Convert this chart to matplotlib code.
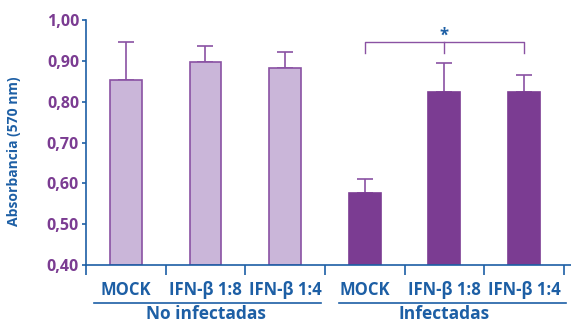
import numpy as np
import matplotlib
matplotlib.use("Agg")
import matplotlib.pyplot as plt
from matplotlib.lines import Line2D

# -----------------------
# Data
# -----------------------
categories = ["MOCK", "IFN-β 1:8", "IFN-β 1:4", "MOCK", "IFN-β 1:8", "IFN-β 1:4"]
groups = ["No infectadas", "Infectadas"]
means = [0.853, 0.898, 0.883, 0.577, 0.824, 0.824]
err_tops = [0.945, 0.937, 0.922, 0.610, 0.895, 0.866]
yticks = [0.40, 0.50, 0.60, 0.70, 0.80, 0.90, 1.00]
ytick_labels = ["0,40", "0,50", "0,60", "0,70", "0,80", "0,90", "1,00"]

# -----------------------
# Colours
# -----------------------
blue = "#1D5FA5"
purple = "#7B3C92"
light = "#CAB6D9"
edge = "#8A52A3"

plt.rcParams["font.family"] = ["Open Sans", "DejaVu Sans"]

W, H = 571, 323
fig = plt.figure(figsize=(W / 100, H / 100), dpi=100)
ax = fig.add_axes([86 / W, (H - 265) / H, (W - 86) / W, 245 / H])

x = np.arange(len(categories))
means = np.array(means)
err = np.array(err_tops) - means
colors = [light] * 3 + [purple] * 3
edges = [edge] * 3 + [purple] * 3

ax.bar(x, means - 0.4, bottom=0.4, width=0.4, color=colors,
       edgecolor=edges, linewidth=1.2, zorder=2)
ax.errorbar(x, means, yerr=[np.zeros_like(err), err], fmt="none",
            ecolor=edge, elinewidth=1.2, capsize=5.5, capthick=1.2, zorder=1)

ax.set_xlim(-0.5, 5.59)
ax.set_ylim(0.4, 1.0)
ax.set_yticks(yticks)
ax.set_yticklabels(ytick_labels, color=purple, fontweight="bold", fontsize=11.5)
ax.set_xticks(np.arange(-0.5, 6, 1.0))
ax.set_xticklabels([])
ax.tick_params(axis="y", length=3, color=blue, width=1.2, pad=2)
ax.tick_params(axis="x", length=7, color=blue, width=1.2, direction="out")
for side in ["top", "right"]:
    ax.spines[side].set_visible(False)
for side in ["left", "bottom"]:
    ax.spines[side].set_color(blue)
    ax.spines[side].set_linewidth(1.2)
ax.set_ylabel("Absorbancia (570 nm)", color=blue, fontweight="bold",
              fontsize=10)
ax.yaxis.set_label_coords(-0.133, 0.465)

# significance bracket
ax.plot([3, 3, 5, 5], [0.920, 0.945, 0.945, 0.920], color=edge, lw=1, clip_on=False)
ax.plot([4, 4], [0.945, 0.920], color=edge, lw=1, clip_on=False)
ax.text(4, 0.962, "*", color=blue, ha="center", va="center",
        fontsize=12, fontweight="bold")

# category labels and group labels
trans = ax.get_xaxis_transform()
for xi, lab in zip(x, categories):
    ax.text(xi, -0.104, lab, transform=trans, ha="center", va="center",
            color=blue, fontweight="bold", fontsize=12)

fig.add_artist(Line2D([94 / W, 321 / W], [(H - 303) / H] * 2, color=blue, lw=1.2))
fig.add_artist(Line2D([339 / W, 566 / W], [(H - 303) / H] * 2, color=blue, lw=1.2))
for gx, g in zip([1, 4], groups):
    ax.text(gx, -0.198, g, transform=trans, ha="center", va="center",
            color=blue, fontweight="bold", fontsize=12.5)

fig.savefig("out.png", dpi=100)
